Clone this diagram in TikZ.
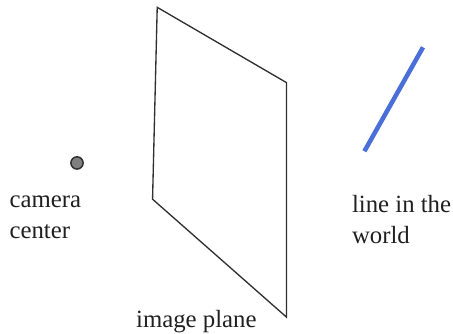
\documentclass[tikz,border=0pt]{standalone}
\usepackage{fontspec}
\setmainfont{Liberation Serif}
\definecolor{lineblue}{HTML}{4A6FD8}
\definecolor{centergray}{HTML}{808080}
\definecolor{framegray}{HTML}{303030}
\definecolor{textgray}{HTML}{202020}
\tikzset{
    caption/.style={anchor=north west, inner sep=0, align=left, text=textgray, font=\fontsize{18.6pt}{23.3pt}\selectfont},
}
\begin{document}
\begin{tikzpicture}[x=1pt, y=-1pt]
    \useasboundingbox (0,0) rectangle (340,250.5);

    \draw[framegray, line width=1pt] (118,5.5) -- (215,62) -- (215,238) -- (114.5,149.5) -- cycle;
    \draw[lineblue, line width=3.4pt] (317.5,35.5) -- (273.5,113.5);
    \fill[centergray, draw=framegray, line width=1.1pt] (57.8,122.3) circle (4.6pt);

    \node[caption] (cameracenter) at (7,146.7) {camera\\center};
    \node[caption] (worldline) at (264,146.7) {line in the\\world};
    \node[caption] (imageplane) at (102,232.5) {image plane};
\end{tikzpicture}
\end{document}
